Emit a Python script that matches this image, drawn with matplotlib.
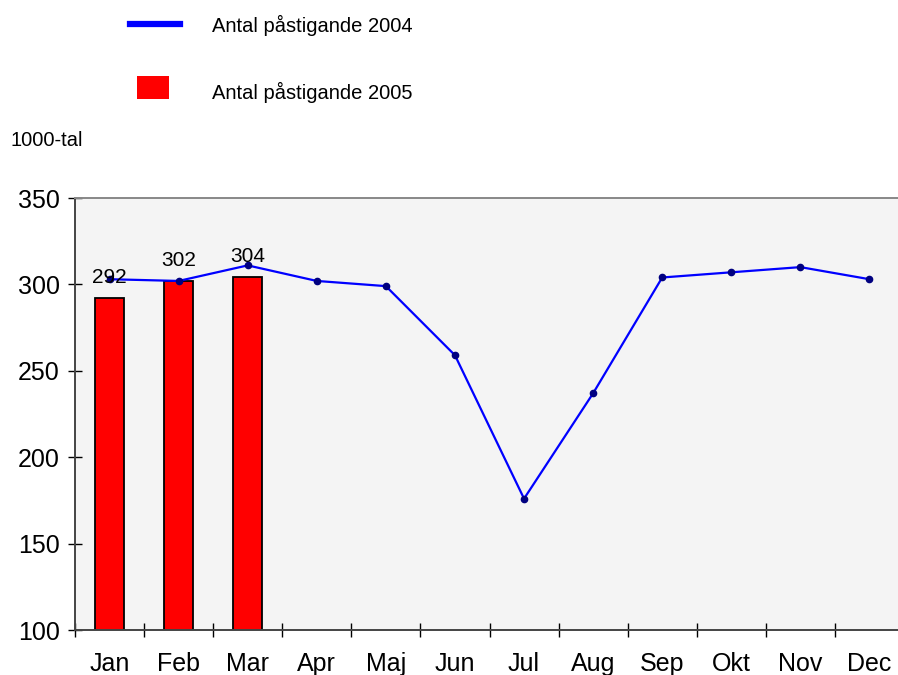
import matplotlib
matplotlib.use("Agg")
import matplotlib.pyplot as plt
from matplotlib.lines import Line2D
from matplotlib.patches import Rectangle

months = ["Jan", "Feb", "Mar", "Apr", "Maj", "Jun", "Jul", "Aug", "Sep", "Okt", "Nov", "Dec"]
values_2004 = [303, 302, 311, 302, 299, 259, 176, 237, 304, 307, 310, 303]
values_2005 = [292, 302, 304]
label_2004 = "Antal påstigande 2004"
label_2005 = "Antal påstigande 2005"
unit_label = "1000-tal"
yticks = [100, 150, 200, 250, 300, 350]

W, H = 898, 675
fig = plt.figure(figsize=(W / 100, H / 100), dpi=100)
fig.patch.set_facecolor("white")

ax = fig.add_axes([75 / W, 45 / H, 829 / W, 432 / H])
ax.set_facecolor("#f4f4f4")

x = list(range(len(months)))
ax.bar(x[:len(values_2005)], values_2005, width=0.415, bottom=0,
       color="#ff0000", edgecolor="black", linewidth=1.3, zorder=2)
ax.plot(x, values_2004, color="#0000ff", linewidth=1.6, marker="o",
        markersize=4.5, markerfacecolor="#000080", markeredgecolor="#000080", zorder=3)

for xi, v in zip(x, values_2005):
    ax.annotate(str(v), (xi, v), xytext=(0, 11), textcoords="offset points",
                ha="center", va="baseline", fontsize=15, family="Liberation Sans", zorder=4)

ax.set_xlim(-0.5, 11.5)
ax.set_ylim(100, 350)
ax.set_yticks(yticks)
ax.set_yticklabels([str(t) for t in yticks], fontsize=18, family="Liberation Sans")
ax.tick_params(axis="y", direction="inout", length=10, width=1, color="black", pad=6)

ax.set_xticks([i - 0.5 for i in range(len(months) + 1)])
ax.set_xticklabels([])
ax.set_xticks(x, minor=True)
ax.set_xticklabels(months, minor=True, fontsize=18, family="Liberation Sans")
ax.tick_params(axis="x", which="major", direction="inout", length=10, width=1, color="black")
ax.tick_params(axis="x", which="minor", length=0, pad=16)

for s in ["left", "bottom"]:
    ax.spines[s].set_color("#444444")
    ax.spines[s].set_linewidth(1.4)
ax.spines["top"].set_color("#888888")
ax.spines["top"].set_linewidth(1.4)
ax.spines["right"].set_color("#888888")

# Legend drawn at top
def fy(py):
    return 1 - py / H

fig.add_artist(Line2D([130 / W, 180 / W], [fy(24), fy(24)], color="#0000ff", linewidth=4.5,
                      transform=fig.transFigure))
fig.add_artist(Rectangle((137 / W, fy(99)), 32 / W, 23 / H, facecolor="#ff0000",
                         edgecolor="none", transform=fig.transFigure))
fam = "Liberation Sans"
fig.text(212 / W, fy(31.5), label_2004, fontsize=14.5, family=fam, va="baseline", ha="left")
fig.text(212 / W, fy(99), label_2005, fontsize=14.5, family=fam, va="baseline", ha="left")
fig.text(10 / W, fy(146.5), unit_label, fontsize=14.5, family=fam, va="baseline", ha="left")

fig.savefig("out.png", dpi=100)
